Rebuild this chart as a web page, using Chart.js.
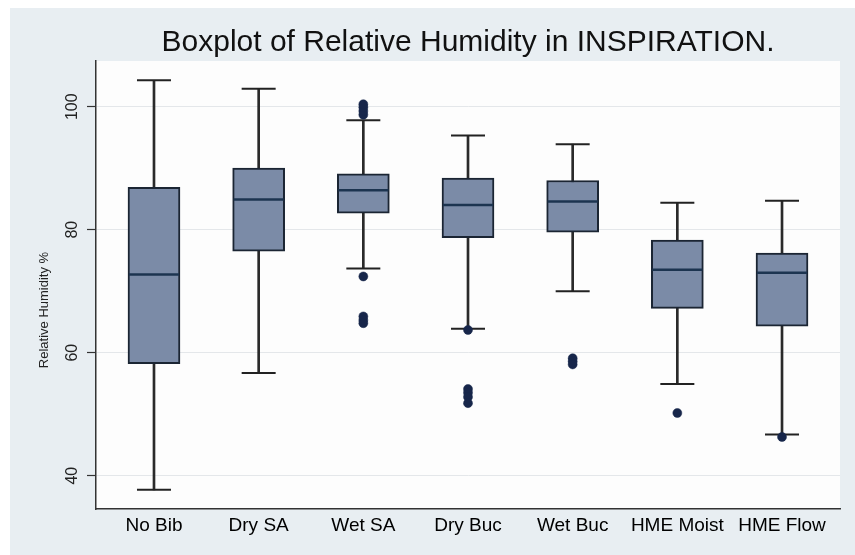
<!DOCTYPE html>
<html><head><meta charset="utf-8">
<script src="https://cdn.jsdelivr.net/npm/chart.js@4.4.1/dist/chart.umd.min.js"></script>
<style>html,body{margin:0;padding:0;background:#fff;}canvas{display:block;}</style>
</head><body>
<canvas id="c" width="855" height="555"></canvas>
<script>
const categories = ['No Bib', 'Dry SA', 'Wet SA', 'Dry Buc', 'Wet Buc', 'HME Moist', 'HME Flow'];
const whiskerLow  = [37.7, 56.7, 73.7, 63.9, 70.0, 54.9, 46.7];
const q1          = [58.2, 76.5, 82.7, 78.7, 79.6, 67.2, 64.3];
const median      = [72.7, 84.9, 86.4, 84.0, 84.6, 73.5, 73.0];
const q3          = [86.9, 90.0, 89.1, 88.4, 88.0, 78.3, 76.2];
const whiskerHigh = [104.3, 102.9, 97.8, 95.3, 93.9, 84.4, 84.7];
const outliers = [
  [],
  [],
  [98.7, 99.3, 99.9, 100.4, 72.4, 65.9, 65.3, 64.8],
  [63.7, 54.1, 53.5, 52.8, 51.8],
  [59.1, 58.6, 58.1],
  [50.2],
  [46.3]
];
const yTicks = [40, 60, 80, 100];
const titleText = 'Boxplot of Relative Humidity in INSPIRATION.';
const yTitle = 'Relative Humidity %';

const FONT = "'Liberation Sans', Arial, Helvetica, sans-serif";

const boxData = categories.map((c, i) => ({x: i, y: [q1[i], q3[i]]}));
const whiskerData = categories.map((c, i) => ({x: i, y: [whiskerLow[i], whiskerHigh[i]]}));
const capData = categories.map((c, i) => ({x: i, y: whiskerLow[i]}))
  .concat(categories.map((c, i) => ({x: i, y: whiskerHigh[i]})));
const medianData = categories.map((c, i) => ({x: i, y: median[i]}));
const outlierData = [];
outliers.forEach((arr, i) => arr.forEach(v => outlierData.push({x: i, y: v})));

const bgPlugin = {
  id: 'bg',
  beforeDraw(chart) {
    const ctx = chart.ctx, a = chart.chartArea;
    ctx.save();
    ctx.fillStyle = '#ffffff';
    ctx.fillRect(0, 0, chart.width, chart.height);
    ctx.fillStyle = '#e8eef2';
    ctx.fillRect(10, 8, chart.width - 10, chart.height - 8);
    ctx.fillStyle = '#fdfdfd';
    ctx.fillRect(a.left, a.top, a.right - a.left, a.bottom - a.top);
    ctx.restore();
    const s = chart.scales.y;
    if (s && !s._shiftPatched) {
      const orig = s.drawTitle.bind(s);
      s.drawTitle = function () {
        this.ctx.save();
        this.ctx.translate(0, 25);
        orig();
        this.ctx.restore();
      };
      s._shiftPatched = true;
    }
  }
};

new Chart(document.getElementById('c'), {
  type: 'bar',
  data: {
    datasets: [
      { type: 'scatter', data: outlierData, pointStyle: 'circle', pointRadius: 4.5,
        backgroundColor: '#17264a', borderColor: '#17264a', pointBorderWidth: 0.5, order: 0 },
      { type: 'scatter', data: medianData, pointStyle: 'line', pointRadius: 25,
        borderColor: '#1c3450', pointBorderWidth: 2.5, order: 1 },
      { type: 'scatter', data: capData, pointStyle: 'line', pointRadius: 17,
        borderColor: '#222222', pointBorderWidth: 2, order: 2 },
      { type: 'bar', data: boxData, backgroundColor: '#7b8ba7', borderColor: '#1b2533',
        borderWidth: 2, borderSkipped: false, barThickness: 52, grouped: false, order: 3 },
      { type: 'bar', data: whiskerData, backgroundColor: '#2a2a2a', borderWidth: 0,
        barThickness: 2, grouped: false, order: 4 }
    ]
  },
  options: {
    responsive: false,
    animation: false,
    events: [],
    layout: { autoPadding: false, padding: { left: 0, right: 15, top: 0, bottom: 0 } },
    plugins: {
      legend: { display: false },
      tooltip: { enabled: false },
      title: {
        display: true, text: titleText, fullSize: false,
        color: '#111111',
        font: { family: FONT, size: 30, weight: 'normal', lineHeight: 1.0 },
        padding: { top: 28, bottom: 3 }
      }
    },
    scales: {
      x: {
        type: 'linear', min: -0.554, max: 6.554, offset: false,
        afterBuildTicks: s => { s.ticks = categories.map((c, i) => ({value: i})); },
        afterFit: s => { s.height = 46; s.paddingLeft = 0; s.paddingRight = 0; },
        grid: { display: false, drawTicks: false },
        border: { color: '#333333', width: 1.5 },
        ticks: {
          autoSkip: false, maxRotation: 0, minRotation: 0, padding: 5,
          color: '#000000', font: { family: FONT, size: 19 },
          callback: v => categories[v] !== undefined ? categories[v] : ''
        }
      },
      y: {
        min: 34.59, max: 107.43,
        afterBuildTicks: s => { s.ticks = yTicks.map(v => ({value: v})); },
        afterFit: s => { s.width = 96; s.paddingTop = 0; s.paddingBottom = 0; },
        grid: { color: '#e4e7ea', lineWidth: 1, tickLength: 9, tickColor: '#333333', tickWidth: 1.2 },
        border: { color: '#333333', width: 1.5 },
        ticks: {
          minRotation: 90, maxRotation: 90, crossAlign: 'center', padding: 1,
          color: '#222222', font: { family: FONT, size: 16 }
        },
        title: {
          display: true, text: yTitle, color: '#222222',
          font: { family: FONT, size: 13 }, padding: { top: 37, bottom: 0 }
        }
      }
    }
  },
  plugins: [bgPlugin]
});
</script>
</body></html>
